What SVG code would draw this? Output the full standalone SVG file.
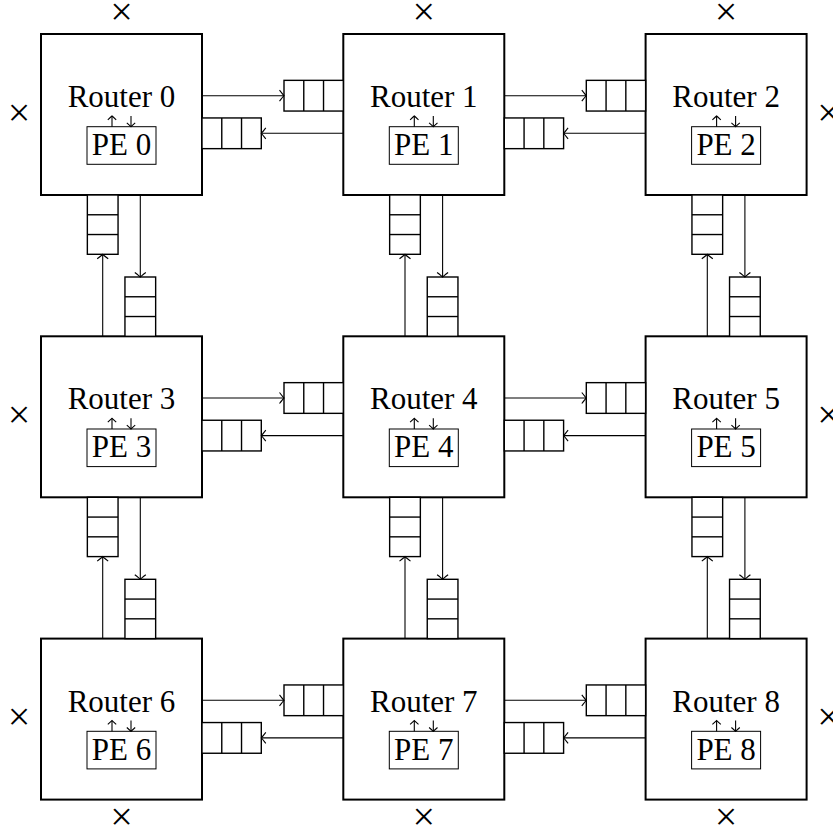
<svg xmlns="http://www.w3.org/2000/svg" xmlns:xlink="http://www.w3.org/1999/xlink" width="833" height="831" viewBox="0 0 833 831">
<style>
.rt{fill:#fff;stroke:#000;stroke-width:2}
.pe{fill:none;stroke:#000;stroke-width:1}
.lbl{font-family:'Liberation Serif','DejaVu Serif',serif;font-size:31px;fill:#000;text-anchor:middle}
.x{font-family:'Liberation Serif','DejaVu Serif',serif;font-size:40px;fill:#000;text-anchor:middle}
.ar{fill:none;stroke:#000;stroke-width:1.1;marker-end:url(#ah)}
.sa{fill:none;stroke:#000;stroke-width:1.1;marker-end:url(#sh)}
.buf{fill:#fff;stroke:#000;stroke-width:1.4}
</style>
<defs>
<marker id="ah" markerUnits="userSpaceOnUse" markerWidth="14" markerHeight="14" viewBox="-7 -7 14 14" refX="0" refY="0" orient="auto" overflow="visible">
<path d="M-4.5,-5.5 Q-1,-1 0,0 Q-1,1 -4.5,5.5" fill="none" stroke="#000" stroke-width="1.1"/>
</marker>
<marker id="sh" markerUnits="userSpaceOnUse" markerWidth="10" markerHeight="10" viewBox="-5 -5 10 10" refX="0" refY="0" orient="auto" overflow="visible">
<path d="M-3.8,-4.2 Q-0.8,-0.8 0,0 Q-0.8,0.8 -3.8,4.2" fill="none" stroke="#000" stroke-width="1.1"/>
</marker>
<g id="hbuf">
<rect class="buf" x="0" y="0" width="59.3" height="30.7"/>
<line x1="19.77" y1="0" x2="19.77" y2="30.7" stroke="#000" stroke-width="1.4"/>
<line x1="39.53" y1="0" x2="39.53" y2="30.7" stroke="#000" stroke-width="1.4"/>
</g>
<g id="vbuf">
<rect class="buf" x="0" y="0" width="30.7" height="59.3"/>
<line x1="0" y1="19.77" x2="30.7" y2="19.77" stroke="#000" stroke-width="1.4"/>
<line x1="0" y1="39.53" x2="30.7" y2="39.53" stroke="#000" stroke-width="1.4"/>
</g>
</defs>
<rect width="833" height="831" fill="#fff"/>

<g id="router0" transform="translate(121.5,114.5)">
<rect class="rt" x="-80.5" y="-80.5" width="161" height="161"/>
<text class="lbl" x="0" y="-7.5">Router 0</text>
<rect class="pe" x="-34.5" y="12.2" width="69" height="37.6"/>
<text class="lbl" x="0" y="40.5">PE 0</text>
<line class="sa" x1="-9.5" y1="12.2" x2="-9.5" y2="1.5"/>
<line class="sa" x1="9.5" y1="1.5" x2="9.5" y2="12.2"/>
</g>
<g id="router1" transform="translate(423.8,114.5)">
<rect class="rt" x="-80.5" y="-80.5" width="161" height="161"/>
<text class="lbl" x="0" y="-7.5">Router 1</text>
<rect class="pe" x="-34.5" y="12.2" width="69" height="37.6"/>
<text class="lbl" x="0" y="40.5">PE 1</text>
<line class="sa" x1="-9.5" y1="12.2" x2="-9.5" y2="1.5"/>
<line class="sa" x1="9.5" y1="1.5" x2="9.5" y2="12.2"/>
</g>
<g id="router2" transform="translate(726.1,114.5)">
<rect class="rt" x="-80.5" y="-80.5" width="161" height="161"/>
<text class="lbl" x="0" y="-7.5">Router 2</text>
<rect class="pe" x="-34.5" y="12.2" width="69" height="37.6"/>
<text class="lbl" x="0" y="40.5">PE 2</text>
<line class="sa" x1="-9.5" y1="12.2" x2="-9.5" y2="1.5"/>
<line class="sa" x1="9.5" y1="1.5" x2="9.5" y2="12.2"/>
</g>
<g id="router3" transform="translate(121.5,416.8)">
<rect class="rt" x="-80.5" y="-80.5" width="161" height="161"/>
<text class="lbl" x="0" y="-7.5">Router 3</text>
<rect class="pe" x="-34.5" y="12.2" width="69" height="37.6"/>
<text class="lbl" x="0" y="40.5">PE 3</text>
<line class="sa" x1="-9.5" y1="12.2" x2="-9.5" y2="1.5"/>
<line class="sa" x1="9.5" y1="1.5" x2="9.5" y2="12.2"/>
</g>
<g id="router4" transform="translate(423.8,416.8)">
<rect class="rt" x="-80.5" y="-80.5" width="161" height="161"/>
<text class="lbl" x="0" y="-7.5">Router 4</text>
<rect class="pe" x="-34.5" y="12.2" width="69" height="37.6"/>
<text class="lbl" x="0" y="40.5">PE 4</text>
<line class="sa" x1="-9.5" y1="12.2" x2="-9.5" y2="1.5"/>
<line class="sa" x1="9.5" y1="1.5" x2="9.5" y2="12.2"/>
</g>
<g id="router5" transform="translate(726.1,416.8)">
<rect class="rt" x="-80.5" y="-80.5" width="161" height="161"/>
<text class="lbl" x="0" y="-7.5">Router 5</text>
<rect class="pe" x="-34.5" y="12.2" width="69" height="37.6"/>
<text class="lbl" x="0" y="40.5">PE 5</text>
<line class="sa" x1="-9.5" y1="12.2" x2="-9.5" y2="1.5"/>
<line class="sa" x1="9.5" y1="1.5" x2="9.5" y2="12.2"/>
</g>
<g id="router6" transform="translate(121.5,719.1)">
<rect class="rt" x="-80.5" y="-80.5" width="161" height="161"/>
<text class="lbl" x="0" y="-7.5">Router 6</text>
<rect class="pe" x="-34.5" y="12.2" width="69" height="37.6"/>
<text class="lbl" x="0" y="40.5">PE 6</text>
<line class="sa" x1="-9.5" y1="12.2" x2="-9.5" y2="1.5"/>
<line class="sa" x1="9.5" y1="1.5" x2="9.5" y2="12.2"/>
</g>
<g id="router7" transform="translate(423.8,719.1)">
<rect class="rt" x="-80.5" y="-80.5" width="161" height="161"/>
<text class="lbl" x="0" y="-7.5">Router 7</text>
<rect class="pe" x="-34.5" y="12.2" width="69" height="37.6"/>
<text class="lbl" x="0" y="40.5">PE 7</text>
<line class="sa" x1="-9.5" y1="12.2" x2="-9.5" y2="1.5"/>
<line class="sa" x1="9.5" y1="1.5" x2="9.5" y2="12.2"/>
</g>
<g id="router8" transform="translate(726.1,719.1)">
<rect class="rt" x="-80.5" y="-80.5" width="161" height="161"/>
<text class="lbl" x="0" y="-7.5">Router 8</text>
<rect class="pe" x="-34.5" y="12.2" width="69" height="37.6"/>
<text class="lbl" x="0" y="40.5">PE 8</text>
<line class="sa" x1="-9.5" y1="12.2" x2="-9.5" y2="1.5"/>
<line class="sa" x1="9.5" y1="1.5" x2="9.5" y2="12.2"/>
</g>

<g id="buffers">
<use xlink:href="#hbuf" x="284" y="80.35"/>
<use xlink:href="#hbuf" x="202" y="117.95"/>
<use xlink:href="#hbuf" x="586.3" y="80.35"/>
<use xlink:href="#hbuf" x="504.3" y="117.95"/>
<use xlink:href="#hbuf" x="284" y="382.65"/>
<use xlink:href="#hbuf" x="202" y="420.25"/>
<use xlink:href="#hbuf" x="586.3" y="382.65"/>
<use xlink:href="#hbuf" x="504.3" y="420.25"/>
<use xlink:href="#hbuf" x="284" y="684.95"/>
<use xlink:href="#hbuf" x="202" y="722.55"/>
<use xlink:href="#hbuf" x="586.3" y="684.95"/>
<use xlink:href="#hbuf" x="504.3" y="722.55"/>
<use xlink:href="#vbuf" x="87.35" y="195"/>
<use xlink:href="#vbuf" x="124.95" y="277"/>
<use xlink:href="#vbuf" x="389.65" y="195"/>
<use xlink:href="#vbuf" x="427.25" y="277"/>
<use xlink:href="#vbuf" x="691.95" y="195"/>
<use xlink:href="#vbuf" x="729.55" y="277"/>
<use xlink:href="#vbuf" x="87.35" y="497.3"/>
<use xlink:href="#vbuf" x="124.95" y="579.3"/>
<use xlink:href="#vbuf" x="389.65" y="497.3"/>
<use xlink:href="#vbuf" x="427.25" y="579.3"/>
<use xlink:href="#vbuf" x="691.95" y="497.3"/>
<use xlink:href="#vbuf" x="729.55" y="579.3"/>
</g>

<g id="connectors">
<line class="ar" x1="202" y1="95.7" x2="284" y2="95.7"/>
<line class="ar" x1="343.3" y1="133.3" x2="261.3" y2="133.3"/>
<line class="ar" x1="504.3" y1="95.7" x2="586.3" y2="95.7"/>
<line class="ar" x1="645.6" y1="133.3" x2="563.6" y2="133.3"/>
<line class="ar" x1="202" y1="398" x2="284" y2="398"/>
<line class="ar" x1="343.3" y1="435.6" x2="261.3" y2="435.6"/>
<line class="ar" x1="504.3" y1="398" x2="586.3" y2="398"/>
<line class="ar" x1="645.6" y1="435.6" x2="563.6" y2="435.6"/>
<line class="ar" x1="202" y1="700.3" x2="284" y2="700.3"/>
<line class="ar" x1="343.3" y1="737.9" x2="261.3" y2="737.9"/>
<line class="ar" x1="504.3" y1="700.3" x2="586.3" y2="700.3"/>
<line class="ar" x1="645.6" y1="737.9" x2="563.6" y2="737.9"/>
<line class="ar" x1="102.7" y1="336.3" x2="102.7" y2="254.3"/>
<line class="ar" x1="140.3" y1="195" x2="140.3" y2="277"/>
<line class="ar" x1="405" y1="336.3" x2="405" y2="254.3"/>
<line class="ar" x1="442.6" y1="195" x2="442.6" y2="277"/>
<line class="ar" x1="707.3" y1="336.3" x2="707.3" y2="254.3"/>
<line class="ar" x1="744.9" y1="195" x2="744.9" y2="277"/>
<line class="ar" x1="102.7" y1="638.6" x2="102.7" y2="556.6"/>
<line class="ar" x1="140.3" y1="497.3" x2="140.3" y2="579.3"/>
<line class="ar" x1="405" y1="638.6" x2="405" y2="556.6"/>
<line class="ar" x1="442.6" y1="497.3" x2="442.6" y2="579.3"/>
<line class="ar" x1="707.3" y1="638.6" x2="707.3" y2="556.6"/>
<line class="ar" x1="744.9" y1="497.3" x2="744.9" y2="579.3"/>
</g>

<g id="unconnected">
<text class="x" x="121.5" y="25">×</text>
<text class="x" x="423.8" y="25">×</text>
<text class="x" x="726.1" y="25">×</text>
<text class="x" x="121.5" y="830">×</text>
<text class="x" x="423.8" y="830">×</text>
<text class="x" x="726.1" y="830">×</text>
<text class="x" x="19" y="125.5">×</text>
<text class="x" x="19" y="427.8">×</text>
<text class="x" x="19" y="730.1">×</text>
<text class="x" x="828.5" y="125.5">×</text>
<text class="x" x="828.5" y="427.8">×</text>
<text class="x" x="828.5" y="730.1">×</text>
</g>
</svg>
